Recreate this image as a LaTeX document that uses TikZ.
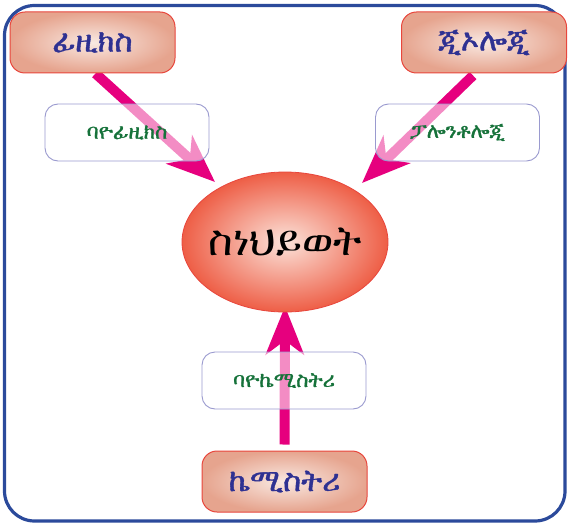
\documentclass[tikz,border=0pt]{standalone}
\usepackage{fontspec}
\def\ethset{\newfontfamily\eth{DejaVu Sans}\newfontfamily\ethb{DejaVu Sans}[FakeBold=1.2]}
\IfFileExists{/usr/share/fonts/truetype/freefont/FreeSerif.ttf}{\def\ethset{%
  \newfontfamily\eth{FreeSerif.ttf}[Path=/usr/share/fonts/truetype/freefont/]%
  \newfontfamily\ethb{FreeSerif.ttf}[Path=/usr/share/fonts/truetype/freefont/,FakeBold=1.2]}}{}
\IfFileExists{/usr/share/fonts/truetype/noto/NotoSansEthiopic-Regular.ttf}{\def\ethset{%
  \newfontfamily\eth{NotoSansEthiopic-Regular.ttf}[Path=/usr/share/fonts/truetype/noto/]%
  \newfontfamily\ethb{NotoSansEthiopic-Regular.ttf}[Path=/usr/share/fonts/truetype/noto/,FakeBold=1.3]}}{}
\ethset
\usetikzlibrary{arrows.meta,shapes.geometric,calc}
\pgfdeclarelayer{back}
\pgfsetlayers{back,main}
\definecolor{frameblue}{HTML}{2B4A9B}
\definecolor{boxred}{HTML}{E8463C}
\definecolor{boxin}{HTML}{F9E9E2}
\definecolor{boxout}{HTML}{E6A48E}
\definecolor{lav}{HTML}{9A9ACF}
\definecolor{topic}{HTML}{2E3192}
\definecolor{sub}{HTML}{16723A}
\definecolor{mag}{HTML}{E6007E}
\definecolor{ellout}{HTML}{EE5E46}
\definecolor{ellin}{HTML}{FBE3DA}
\tikzset{
  topicbox/.style={draw=boxred, line width=1pt, rounded corners=15pt, inner color=boxin, outer color=boxout,
     minimum width=165pt, minimum height=61pt, font=\ethb\fontsize{31}{34}\selectfont, text=topic},
  subbox/.style={draw=lav, line width=0.9pt, rounded corners=13pt, fill=white, fill opacity=0.55, text opacity=1,
     minimum width=164pt, minimum height=57pt, font=\ethb\fontsize{21}{24}\selectfont, text=sub},
  arr/.style={draw=mag, line width=10pt, -{Stealth[length=48pt,width=38pt,inset=14pt]}},
}
\begin{document}
\begin{tikzpicture}[x=1pt,y=-1pt]
\useasboundingbox (0,0) rectangle (569,524);
% centre
\node[ellipse, draw=boxred, line width=0.8pt, inner color=ellin, outer color=ellout,
      minimum width=206pt, minimum height=140pt, inner sep=0pt,
      font=\eth\fontsize{42}{46}\selectfont] (life) at (285,242) {\makebox[0pt][c]{ስነህይወት}};
% subfield boxes
\node[subbox] (biophys) at (127,132.5) {ባዮፊዚክስ};
\node[subbox] (paleo) at (457.5,132.5) {ፓሎንቶሎጂ};
\node[subbox] (biochem) at (284,380.5) {ባዮኬሚስትሪ};
% field boxes
\node[topicbox] (phys) at (92.5,42.5) {ፊዚክስ};
\node[topicbox] (geo) at (484,42.5) {ጂኦሎጂ};
\node[topicbox] (chem) at (284.5,481.5) {ኬሚስትሪ};
% arrow ends
\coordinate (pt) at (215,182);
\coordinate (gt) at (362,183);
\begin{pgfonlayer}{back}
  \draw[frameblue, line width=3.2pt, rounded corners=30pt] (4.5,5.5) rectangle (565,521);
  \draw[arr] ($(phys.south)+(3,0)$) -- (pt);
  \draw[arr] ($(geo.south)+(-11,2)$) -- (gt);
  \draw[arr, shorten >=-6pt] ($(chem.north)+(0,-6)$) -- (life.south);
\end{pgfonlayer}
\end{tikzpicture}
\end{document}
